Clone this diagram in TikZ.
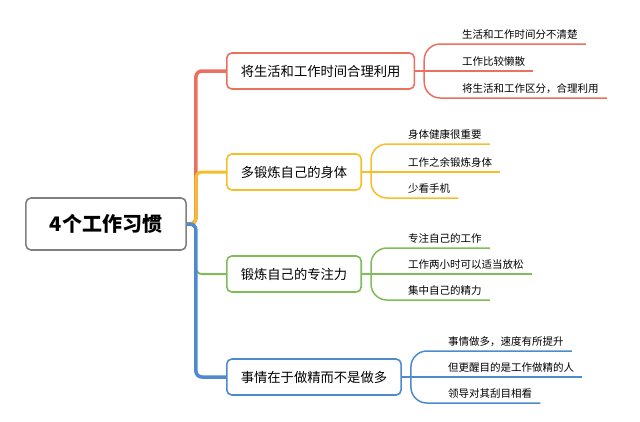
\documentclass[tikz,border=0pt]{standalone}
\usepackage{fontspec}
\setmainfont{Noto Sans CJK SC}
\definecolor{mRed}{RGB}{236,112,96}
\definecolor{mOrange}{RGB}{246,190,40}
\definecolor{mGreen}{RGB}{128,188,88}
\definecolor{mBlue}{RGB}{78,138,206}
\definecolor{mGray}{RGB}{128,128,128}
\usetikzlibrary{positioning}

\begin{document}
\begin{tikzpicture}[x=1pt,y=-1pt,
    rootbox/.style={draw=mGray, line width=1.6pt, rounded corners=5pt, fill=white,
      inner xsep=24pt, minimum height=52pt, font=\fontsize{20}{24}\selectfont\bfseries},
    topic/.style={draw=#1, line width=1.6pt, rounded corners=5pt, fill=white, anchor=west,
      inner xsep=14pt, minimum height=36pt, font=\fontsize{13.3}{16}\selectfont},
    leaf/.style={anchor=south west, inner xsep=0pt, inner ysep=4pt,
      font=\fontsize{10.5}{12}\selectfont},
    trunk/.style={draw=#1, rounded corners=6pt},
    twig/.style={draw=#1, line width=1.5pt, rounded corners=16pt}]
  \useasboundingbox (0,0) rectangle (640,421);

  % root and the four topics
  \node[rootbox] (root) at (106,224) {4个工作习惯};
  \node[topic=mRed] (b1) at (226,71) {将生活和工作时间合理利用};
  \node[topic=mOrange] (b2) at (226,172) {多锻炼自己的身体};
  \node[topic=mGreen] (b3) at (226,274) {锻炼自己的专注力};
  \node[topic=mBlue] (b4) at (226,377) {事情在于做精而不是做多};

  \draw[trunk=mRed, line width=3.5pt] (root.east) -- ++(9,0) |- (b1.west);
  \draw[trunk=mGreen, line width=2pt] (root.east) -- ++(9,0) |- (b3.west);
  \draw[trunk=mOrange, line width=3pt] (root.east) -- ++(9,0) |- (b2.west);
  \draw[trunk=mBlue, line width=3.5pt] (root.east) -- ++(9,0) |- (b4.west);

  % leaves
  \node[leaf] (l11) at (462,44) {生活和工作时间分不清楚};
  \node[leaf] (l12) at (462,71) {工作比较懒散};
  \node[leaf] (l13) at (462,98) {将生活和工作区分，合理利用};
  \node[leaf] (l21) at (408,144) {身体健康很重要};
  \node[leaf] (l22) at (408,172) {工作之余锻炼身体};
  \node[leaf] (l23) at (408,198) {少看手机};
  \node[leaf] (l31) at (408,248) {专注自己的工作};
  \node[leaf] (l32) at (408,274) {工作两小时可以适当放松};
  \node[leaf] (l33) at (408,300) {集中自己的精力};
  \node[leaf] (l41) at (448,351) {事情做多，速度有所提升};
  \node[leaf] (l42) at (448,377) {但更醒目的是工作做精的人};
  \node[leaf] (l43) at (448,403) {领导对其刮目相看};

  \foreach \b/\c in {1/mRed,2/mOrange,3/mGreen,4/mBlue} {
    \draw[twig=\c] (b\b.east) -- ([xshift=8pt]l\b2.south east);
    \draw[twig=\c] ([xshift=9pt]b\b.east) |- ([xshift=8pt]l\b1.south east);
    \draw[twig=\c] ([xshift=9pt]b\b.east) |- ([xshift=8pt]l\b3.south east);
  }
\end{tikzpicture}
\end{document}
